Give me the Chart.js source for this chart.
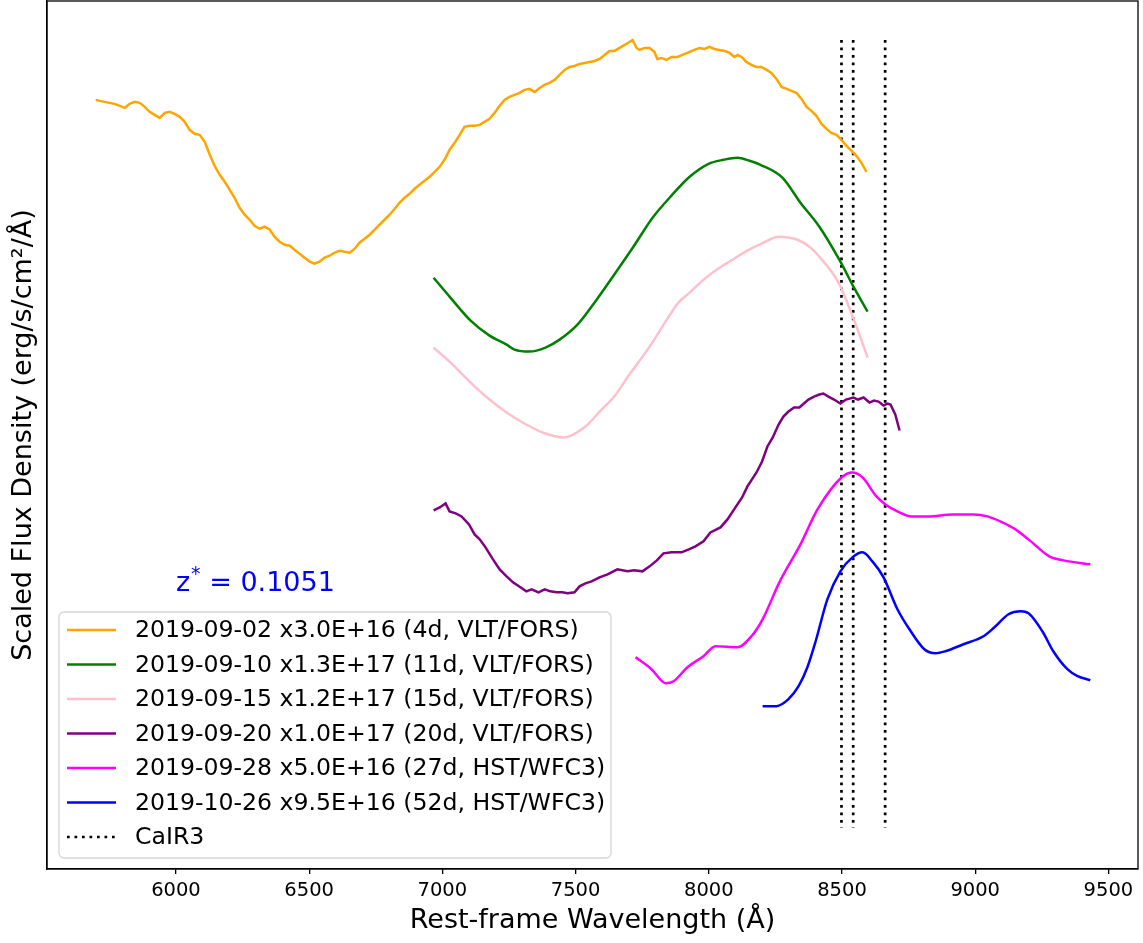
<!DOCTYPE html>
<html lang="en">
<head>
<meta charset="UTF-8">
<title>Spectra</title>
<script src="https://cdn.jsdelivr.net/npm/chart.js"></script>
<style>
  body { margin: 0; background: #fff; }
</style>
</head>
<body>
<canvas id="chart" width="1143" height="943"></canvas>
<script>
// wavelength (A) and scaled flux
const wl0902 = [5699,5714,5732,5751,5770,5789,5808,5826,5845,5864,5883,5901,5920,5939,5958,5976,5995,6014,6033,6051,6070,6089,6108,6127,6145,6164,6183,6202,6220,6239,6258,6277,6295,6314,6333,6352,6370,6389,6408,6427,6445,6464,6483,6502,6520,6539,6558,6577,6596,6614,6633,6652,6671,6689,6708,6727,6746,6764,6783,6802,6821,6839,6858,6877,6896,6914,6933,6952,6971,6990,7008,7027,7046,7065,7083,7102,7121,7140,7158,7177,7196,7215,7233,7252,7271,7290,7308,7327,7346,7365,7383,7402,7421,7440,7459,7477,7496,7515,7534,7552,7571,7590,7609,7627,7646,7665,7684,7702,7714,7729,7740,7759,7778,7796,7807,7823,7841,7860,7883,7901,7928,7946,7965,7984,8003,8021,8040,8059,8078,8096,8108,8123,8141,8160,8179,8198,8217,8235,8254,8273,8292,8310,8329,8348,8367,8385,8404,8423,8442,8460,8479,8498,8517,8536,8554,8573,8592];
const fx0902 = [7.70,7.69,7.68,7.67,7.66,7.64,7.62,7.66,7.68,7.67,7.63,7.58,7.55,7.52,7.57,7.58,7.56,7.53,7.48,7.40,7.36,7.35,7.28,7.15,7.04,6.95,6.88,6.80,6.72,6.62,6.55,6.50,6.44,6.41,6.43,6.40,6.33,6.28,6.25,6.24,6.20,6.16,6.12,6.08,6.06,6.08,6.12,6.14,6.17,6.19,6.18,6.17,6.21,6.27,6.31,6.35,6.40,6.45,6.50,6.55,6.61,6.67,6.72,6.76,6.81,6.85,6.89,6.93,6.98,7.03,7.10,7.20,7.27,7.35,7.43,7.44,7.44,7.45,7.48,7.51,7.57,7.64,7.70,7.73,7.75,7.77,7.80,7.81,7.78,7.82,7.85,7.87,7.90,7.95,8.00,8.03,8.04,8.06,8.07,8.08,8.09,8.11,8.15,8.19,8.19,8.22,8.25,8.28,8.30,8.22,8.20,8.22,8.22,8.18,8.11,8.12,8.10,8.13,8.13,8.15,8.18,8.20,8.22,8.21,8.23,8.21,8.20,8.19,8.17,8.13,8.15,8.13,8.08,8.05,8.03,8.03,8.00,7.97,7.91,7.83,7.81,7.79,7.77,7.71,7.63,7.59,7.54,7.46,7.41,7.37,7.35,7.30,7.24,7.19,7.14,7.07,6.98];

const wl0910 = [6967,7027,7106,7177,7241,7271,7327,7387,7440,7507,7579,7650,7717,7789,7856,7928,7999,8055,8108,8153,8194,8277,8344,8415,8494,8543,8596];
const fx0910 = [5.92,5.73,5.49,5.34,5.25,5.20,5.18,5.22,5.30,5.45,5.70,5.97,6.23,6.52,6.73,6.93,7.06,7.10,7.12,7.09,7.05,6.92,6.67,6.43,6.08,5.83,5.58];

const wl0915 = [6967,7027,7106,7177,7241,7308,7376,7455,7537,7590,7642,7702,7778,7845,7886,7928,7980,8040,8089,8138,8198,8262,8303,8333,8378,8415,8487,8543,8596];
const fx0915 = [5.22,5.08,4.87,4.70,4.57,4.46,4.37,4.32,4.43,4.58,4.72,4.95,5.23,5.51,5.67,5.77,5.90,6.02,6.10,6.18,6.26,6.33,6.32,6.30,6.23,6.13,5.87,5.51,5.12];

const wl0920 = [6967,6990,7012,7027,7050,7072,7100,7121,7140,7162,7190,7215,7241,7265,7293,7315,7335,7361,7384,7405,7429,7450,7470,7496,7515,7537,7560,7590,7620,7657,7695,7720,7751,7778,7805,7830,7860,7898,7925,7950,7980,8006,8044,8070,8100,8125,8145,8179,8200,8220,8240,8262,8280,8299,8320,8340,8374,8395,8415,8430,8449,8470,8494,8515,8543,8560,8581,8603,8620,8637,8656,8670,8682,8700,8716];
const fx0920 = [3.59,3.62,3.66,3.58,3.56,3.53,3.45,3.35,3.30,3.22,3.10,3.00,2.93,2.87,2.82,2.78,2.80,2.77,2.80,2.78,2.77,2.77,2.76,2.77,2.83,2.86,2.88,2.92,2.95,3.00,2.98,2.99,2.98,3.03,3.09,3.16,3.17,3.17,3.20,3.23,3.28,3.37,3.42,3.50,3.62,3.72,3.83,3.97,4.08,4.23,4.32,4.45,4.53,4.58,4.62,4.62,4.70,4.73,4.75,4.76,4.73,4.70,4.66,4.70,4.72,4.70,4.72,4.67,4.69,4.68,4.64,4.66,4.65,4.55,4.39];

const wl0928 = [7725,7785,7838,7868,7920,7980,8025,8108,8160,8202,8265,8344,8408,8498,8539,8577,8629,8663,8708,8761,8824,8914,8993,9046,9102,9151,9200,9278,9331,9432];
const fx0928 = [2.12,2.00,1.86,1.88,2.02,2.13,2.23,2.22,2.33,2.50,2.87,3.25,3.60,3.92,3.97,3.92,3.73,3.65,3.58,3.53,3.53,3.55,3.55,3.53,3.47,3.40,3.30,3.13,3.09,3.05];

const wl1026 = [8202,8254,8299,8337,8370,8400,8445,8494,8539,8577,8614,8656,8708,8753,8809,8851,8888,8956,9031,9072,9125,9170,9200,9252,9293,9346,9384,9432];
const fx1026 = [1.63,1.63,1.70,1.83,2.02,2.27,2.70,2.98,3.12,3.17,3.08,2.92,2.60,2.40,2.20,2.16,2.18,2.25,2.33,2.42,2.55,2.58,2.56,2.38,2.18,2.00,1.93,1.89];

const labels = [
  '2019-09-02 x3.0E+16 (4d, VLT/FORS)',
  '2019-09-10 x1.3E+17 (11d, VLT/FORS)',
  '2019-09-15 x1.2E+17 (15d, VLT/FORS)',
  '2019-09-20 x1.0E+17 (20d, VLT/FORS)',
  '2019-09-28 x5.0E+16 (27d, HST/WFC3)',
  '2019-10-26 x9.5E+16 (52d, HST/WFC3)'
];
const colors = ['#ffa500', '#008000', '#ffc0cb', '#800080', '#ff00ff', '#0000ff'];

// Ca II IR triplet
const caLines = [8498, 8542, 8662];
const caTop = 8.30;
const caBottom = 0.41;

const xTicks = [6000, 6500, 7000, 7500, 8000, 8500, 9000, 9500];

function pts(xs, ys) {
  return xs.map((x, i) => ({ x: x, y: ys[i] }));
}

const series = [[wl0902, fx0902], [wl0910, fx0910], [wl0915, fx0915], [wl0920, fx0920], [wl0928, fx0928], [wl1026, fx1026]];
const smooth = [false, true, true, false, true, true];

const datasets = series.map((s, i) => ({
  label: labels[i],
  data: pts(s[0], s[1]),
  borderColor: colors[i],
  borderWidth: 2.5,
  pointRadius: 0,
  cubicInterpolationMode: smooth[i] ? 'monotone' : 'default',
  tension: 0
}));

let caData = [];
caLines.forEach((w, i) => {
  if (i > 0) caData.push({ x: w - 1, y: null });
  caData.push({ x: w, y: caTop });
  caData.push({ x: w, y: caBottom });
});
datasets.push({
  label: 'CaIR3',
  data: caData,
  borderColor: '#000',
  borderWidth: 2.7,
  borderDash: [2.7, 4.8],
  borderCapStyle: 'butt',
  pointRadius: 0,
  spanGaps: false
});

const FONT = 'DejaVu Sans';

// frame, z* note and legend box
const extras = {
  id: 'extras',
  afterDraw(chart) {
    const ctx = chart.ctx;
    const a = chart.chartArea;
    const xs = chart.scales.x, ys = chart.scales.y;
    ctx.save();
    ctx.strokeStyle = '#000';
    ctx.lineWidth = 1.3;
    ctx.strokeRect(a.left, a.top, a.right - a.left, a.bottom - a.top);

    // z* label
    let tx = xs.getPixelForValue(6000);
    let ty = ys.getPixelForValue(2.78);
    ctx.fillStyle = '#0000ff';
    ctx.textBaseline = 'alphabetic';
    ctx.font = '27px "' + FONT + '"';
    ctx.fillText('z', tx, ty);
    let w = ctx.measureText('z').width;
    ctx.font = '19px "' + FONT + '"';
    ctx.fillText('*', tx + w + 1, ty - 11);
    w += ctx.measureText('*').width + 1;
    ctx.font = '27px "' + FONT + '"';
    ctx.fillText(' = 0.1051', tx + w, ty);

    // legend
    const lx = a.left + 12, ly = a.top + 611, lw = 552, lh = 246;
    ctx.beginPath();
    ctx.roundRect(lx, ly, lw, lh, 5);
    ctx.fillStyle = 'rgba(255,255,255,0.8)';
    ctx.fill();
    ctx.strokeStyle = '#d6d6d6';
    ctx.lineWidth = 1.3;
    ctx.stroke();
    ctx.font = '23.6px "' + FONT + '"';
    ctx.textBaseline = 'middle';
    chart.data.datasets.forEach((ds, i) => {
      const y = ly + 18 + i * 34.5;
      ctx.beginPath();
      ctx.strokeStyle = ds.borderColor;
      ctx.lineWidth = ds.borderWidth;
      ctx.setLineDash(ds.borderDash || []);
      ctx.lineCap = 'butt';
      ctx.moveTo(lx + 8, y);
      ctx.lineTo(lx + 57, y);
      ctx.stroke();
      ctx.setLineDash([]);
      ctx.fillStyle = '#000';
      ctx.fillText(ds.label, lx + 76, y + 1);
    });
    ctx.restore();
  }
};

new Chart(document.getElementById('chart'), {
  type: 'line',
  data: { datasets: datasets },
  options: {
    responsive: false,
    animation: false,
    layout: { padding: { top: 1, right: 5, left: 0, bottom: 0 } },
    plugins: { legend: { display: false }, tooltip: { enabled: false } },
    scales: {
      x: {
        type: 'linear',
        min: 5516,
        max: 9611,
        afterBuildTicks: (s) => { s.ticks = xTicks.map(v => ({ value: v })); },
        afterFit: (s) => { s.height = 74; },
        ticks: {
          color: '#000',
          font: { family: FONT, size: 19.5 },
          padding: 5,
          maxRotation: 0,
          callback: (v) => String(v)
        },
        grid: { drawOnChartArea: false, drawTicks: true, tickLength: 5, color: '#000', lineWidth: 1.3 },
        border: { display: true, color: '#000', width: 1.3 },
        title: {
          display: true,
          text: 'Rest-frame Wavelength (Å)',
          color: '#000',
          font: { family: FONT, size: 27 },
          padding: { top: 0, bottom: 6 }
        }
      },
      y: {
        type: 'linear',
        min: 0,
        max: 8.69,
        afterFit: (s) => { s.width = 47; },
        ticks: { display: false },
        grid: { display: false },
        border: { display: true, color: '#000', width: 1.3 },
        title: {
          display: true,
          text: 'Scaled Flux Density (erg/s/cm²/Å)',
          color: '#000',
          font: { family: FONT, size: 27 },
          padding: { top: 8, bottom: 0 }
        }
      }
    }
  },
  plugins: [extras]
});
</script>
</body>
</html>
